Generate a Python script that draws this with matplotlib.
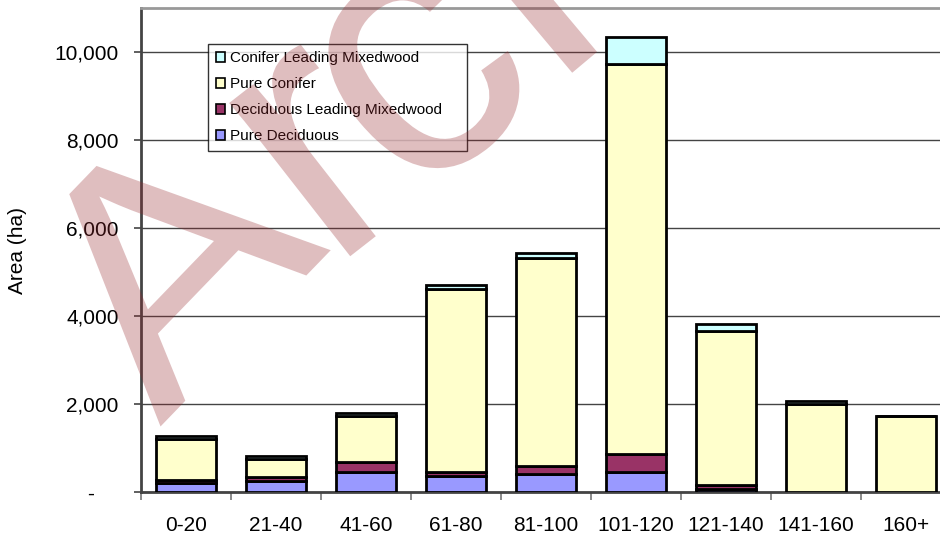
import matplotlib
matplotlib.use("Agg")
import matplotlib.pyplot as plt
import matplotlib.transforms as mtransforms
from matplotlib.textpath import TextPath
from matplotlib.patches import PathPatch
from matplotlib.font_manager import FontProperties
import numpy as np

# Area by age class, stacked by stand type (ha)
age_classes = ['0-20', '21-40', '41-60', '61-80', '81-100',
               '101-120', '121-140', '141-160', '160+']
pure_deciduous = [210, 255, 455, 370, 410, 445, 60, 0, 0]
deciduous_leading = [60, 95, 225, 85, 190, 425, 90, 0, 0]
pure_conifer = [935, 405, 1040, 4170, 4720, 8850, 3515, 1990, 1725]
conifer_leading = [65, 70, 65, 70, 105, 610, 150, 70, 0]

series_names = ['Pure Deciduous', 'Deciduous Leading Mixedwood',
                'Pure Conifer', 'Conifer Leading Mixedwood']
series_colors = ['#9999ff', '#993366', '#ffffcc', '#ccffff']
y_ticks = [0, 2000, 4000, 6000, 8000, 10000]
y_tick_labels = ['-', '2,000', '4,000', '6,000', '8,000', '10,000']

plt.rcParams.update({
    'font.family': ['Liberation Sans', 'DejaVu Sans'],
    'font.size': 15,
})

W, H = 940, 534
fig = plt.figure(figsize=(W / 100, H / 100), dpi=100)
ax = fig.add_axes([141 / W, 42 / H, 810 / W, 484 / H])
ax.patch.set_facecolor('white')

x = np.arange(len(age_classes))
bottom = np.zeros(len(age_classes))
handles = []
for vals, name, col in zip([pure_deciduous, deciduous_leading, pure_conifer, conifer_leading],
                           series_names, series_colors):
    vals = np.array(vals, dtype=float)
    bars = ax.bar(x, vals, width=0.667, bottom=bottom, color=col,
                  edgecolor='black', linewidth=2.0, label=name, zorder=3)
    handles.append(bars)
    bottom += vals

ax.set_xlim(-0.5, len(age_classes) - 0.5)
ax.set_ylim(0, 11000)

# gridlines and frame
ax.set_yticks(y_ticks)
ax.set_yticklabels(y_tick_labels)
ax.yaxis.grid(True, color='#444444', linewidth=1.0, zorder=1)
ax.set_axisbelow(True)
ax.spines['right'].set_visible(False)
ax.spines['top'].set_color('#999999')
ax.spines['top'].set_linewidth(2.0)
for side in ['left', 'bottom']:
    ax.spines[side].set_color('#444444')
    ax.spines[side].set_linewidth(2.0)

ax.tick_params(axis='y', length=5, width=1.2, color='#444444', pad=11)
# the zero label sits a little left of the others
zero_lbl = ax.get_yticklabels()[0]
zero_lbl.set_transform(zero_lbl.get_transform()
                       + mtransforms.ScaledTranslation(-0.25, 0, fig.dpi_scale_trans))

ax.set_xticks(x)
ax.set_xticklabels(age_classes)
ax.set_xticks(np.arange(-0.5, len(age_classes)), minor=True)
ax.tick_params(axis='x', which='major', length=0, pad=17)
ax.tick_params(axis='x', which='minor', length=6, width=1.2, color='#777777')

ax.set_ylabel('Area (ha)', labelpad=20)

leg = ax.legend(handles=handles[::-1], labels=series_names[::-1],
                loc='upper left', bbox_to_anchor=(0.083, 0.5, 0.32, 0.426),
                mode='expand', borderaxespad=0, fontsize=11, frameon=True,
                fancybox=False, handlelength=0.6, handleheight=0.6,
                handletextpad=0.35, labelspacing=0.78, borderpad=0.5)
leg.get_frame().set_edgecolor('black')
leg.get_frame().set_linewidth(1.0)
for h in leg.legend_handles:
    h.set_linewidth(1.2)


# stamp across the page, built from glyph outlines so each piece can be placed
def stamp(s, x0, y0, rot, scale=1.0, sx=1.0):
    path = TextPath((0, 0), s, size=330, prop=FontProperties(family='Liberation Sans'))
    tr = (mtransforms.Affine2D().scale(scale * sx, scale)
          .rotate_deg(rot).translate(x0, H - y0))
    patch = PathPatch(path, transform=tr, facecolor='#96282d', edgecolor='none',
                      alpha=0.3, zorder=10)
    fig.add_artist(patch)


stamp('A', 160, 427, 46, sx=1.12)
stamp('r', 330, 272, 38, scale=1.12)
stamp('chived', 411, 208, 40, scale=1.12)

fig.savefig('out.png', dpi=100)
